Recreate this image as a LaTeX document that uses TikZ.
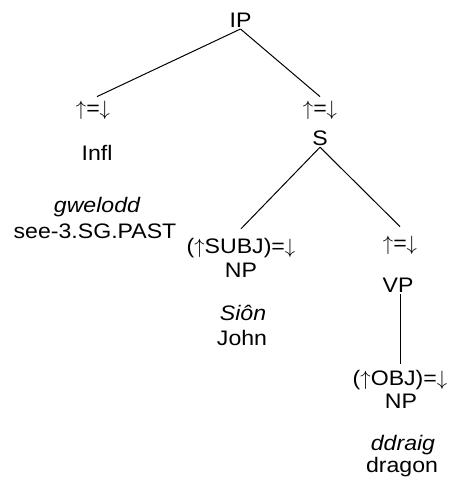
\documentclass[tikz,border=0pt]{standalone}
\usepackage{fontspec}
\setmainfont{Liberation Sans}[FakeStretch=1.1]
\newcommand{\upa}{\ensuremath{\uparrow}}
\newcommand{\dna}{\ensuremath{\downarrow}}
\begin{document}
\begin{tikzpicture}[x=1pt,y=-1pt,
  lbl/.style={anchor=base,inner sep=0pt,outer sep=2pt,font=\fontsize{21}{26}\selectfont},
  it/.style={lbl,font=\fontsize{21}{26}\selectfont\itshape},
  branch/.style={draw=black,line width=1pt}]
\useasboundingbox (0,0) rectangle (450,480);
\node[lbl] (IP) at (240.5,27) {IP};
\node[lbl] (lu) at (93,115) {\upa=\dna};
\node[lbl] (infl) at (97,160) {Infl};
\node[it] (gwelodd) at (97,212) {gwelodd};
\node[lbl] (see) at (95,238) {see-3.SG.PAST};
\node[lbl] (ru) at (320,115) {\upa=\dna};
\node[lbl] (S) at (320,145) {S};
\node[lbl] (subj) at (241,253) {(\upa SUBJ)=\dna};
\node[lbl] (np1) at (241,277) {NP};
\node[it] (sion) at (243,320) {Siôn};
\node[lbl] (john) at (242,345) {John};
\node[lbl] (vu) at (400,250) {\upa=\dna};
\node[lbl] (vp) at (398,292) {VP};
\node[lbl] (obj) at (400,385) {(\upa OBJ)=\dna};
\node[lbl] (np2) at (401,408) {NP};
\node[it] (ddraig) at (403,450) {ddraig};
\node[lbl] (dragon) at (402,472) {dragon};
\draw[branch] (IP.south) -- ([xshift=4pt,yshift=2pt]lu.north);
\draw[branch] (IP.south) -- ([yshift=2pt]ru.north);
\draw[branch] (S.south) -- ([yshift=7pt]subj.north);
\draw[branch] (S.south) -- ([yshift=7pt]vu.north);
\draw[branch] ([xshift=2pt]vp.south) -- ([yshift=4pt]obj.north);
\end{tikzpicture}
\end{document}
